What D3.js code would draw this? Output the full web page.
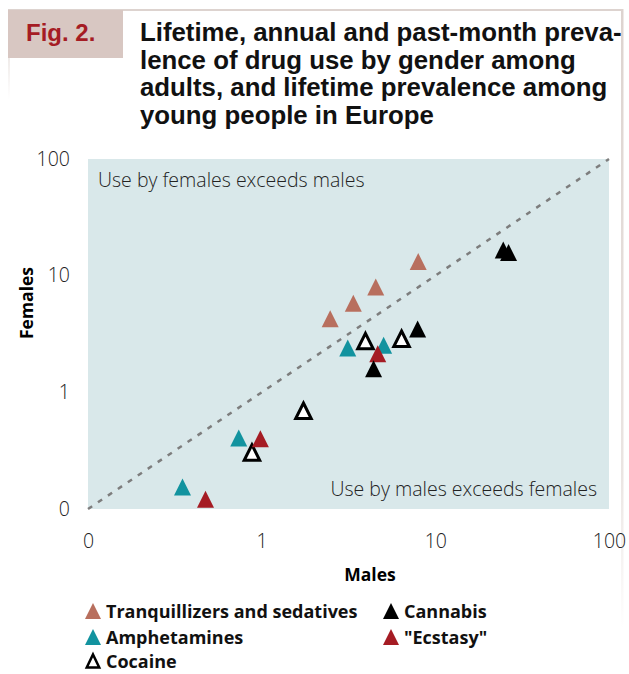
<!DOCTYPE html>
<html>
<head>
<meta charset="utf-8">
<script src="https://cdn.jsdelivr.net/npm/d3@7"></script>
<style>
  html, body { margin: 0; padding: 0; background: #fff; }
  svg { display: block; }
</style>
</head>
<body>
<div id="chart"></div>
<script>
// ---------------- data ----------------
const seriesNames = ["Tranquillizers and sedatives", "Amphetamines", "Cocaine", "Cannabis", "\"Ecstasy\""];
const seriesColors = ["#b86f5e", "#12939f", "#ffffff", "#000000", "#a51c24"];

const tranqMales   = [2.48, 3.37, 4.54, 7.97];
const tranqFemales = [4.28, 5.80, 8.0, 13.2];

const amphMales    = [0.35, 0.738, 3.13, 5.04];
const amphFemales  = [0.154, 0.406, 2.40, 2.53];

const ecstMales    = [0.475, 0.983, 4.66];
const ecstFemales  = [0.121, 0.400, 2.14];

const cannMales    = [24.6, 26.4, 7.91, 4.41];
const cannFemales  = [16.6, 15.8, 3.49, 1.59];

const cocMales     = [0.879, 1.74, 3.96, 6.39];
const cocFemales   = [0.305, 0.695, 2.75, 2.88];

const tickValues = [0.1, 1, 10, 100];
const tickLabels = ["0", "1", "10", "100"];

const titleLines = [
  "Lifetime, annual and past-month preva-",
  "lence of drug use by gender among",
  "adults, and lifetime prevalence among",
  "young people in Europe"
];
const figLabel = "Fig. 2.";
const xTitle = "Males";
const yTitle = "Females";
const noteTop = "Use by females exceeds males";
const noteBottom = "Use by males exceeds females";

// ---------------- layout ----------------
const W = 629, H = 674;
const plot = { left: 88, right: 609, top: 159, bottom: 509 };
const lightFont = "'Open Sans', 'DejaVu Sans', sans-serif";
const boldFont = "'Liberation Sans', Arial, sans-serif";

const svg = d3.select("#chart").append("svg")
  .attr("width", W).attr("height", H);

// frame
const defs = svg.append("defs");
const grad = defs.append("linearGradient").attr("id", "fade")
  .attr("x1", 0).attr("y1", 0).attr("x2", 0).attr("y2", 1);
grad.append("stop").attr("offset", "0%").attr("stop-color", "#ddd3cf").attr("stop-opacity", 1);
grad.append("stop").attr("offset", "75%").attr("stop-color", "#ddd3cf").attr("stop-opacity", 0.6);
grad.append("stop").attr("offset", "100%").attr("stop-color", "#ddd3cf").attr("stop-opacity", 0);
const gradL = defs.append("linearGradient").attr("id", "fadeL")
  .attr("x1", 0).attr("y1", 0).attr("x2", 0).attr("y2", 1);
gradL.append("stop").attr("offset", "0%").attr("stop-color", "#ddd3cf").attr("stop-opacity", 1);
gradL.append("stop").attr("offset", "100%").attr("stop-color", "#ddd3cf").attr("stop-opacity", 0);

svg.append("rect").attr("x", 8).attr("y", 9).attr("width", 615).attr("height", 2).attr("fill", "#ddd3cf");
svg.append("rect").attr("x", 621).attr("y", 9).attr("width", 2.5).attr("height", 620).attr("fill", "url(#fade)");
svg.append("rect").attr("x", 8).attr("y", 9).attr("width", 2).attr("height", 90).attr("fill", "url(#fadeL)");
svg.append("rect").attr("x", 8).attr("y", 10).attr("width", 115).attr("height", 48).attr("fill", "#d8c7c2");

svg.append("text").attr("x", 26).attr("y", 41)
  .attr("font-family", boldFont).attr("font-weight", "bold").attr("font-size", 24)
  .attr("fill", "#a51c24").text(figLabel);

const titleG = svg.append("g");
const tl = titleG.selectAll("text").data(titleLines).join("text")
  .attr("x", 140).attr("y", (d, i) => 41 + i * 27.5)
  .attr("font-family", boldFont).attr("font-weight", "bold").attr("font-size", 22)
  .attr("fill", "#111").text(d => d);
// fit the first line to its reference width
const w0 = tl.nodes()[0].getComputedTextLength();
const fs = 22 * 482 / w0;
tl.attr("font-size", fs);

// scales
const x = d3.scaleLog().domain([0.1, 100]).range([plot.left, plot.right]);
const y = d3.scaleLog().domain([0.1, 100]).range([plot.bottom, plot.top]);

// background panel
svg.append("rect").attr("x", plot.left).attr("y", plot.top)
  .attr("width", plot.right - plot.left).attr("height", plot.bottom - plot.top)
  .attr("fill", "#d9e8ea");

// diagonal
svg.append("line")
  .attr("x1", x(0.1)).attr("y1", y(0.1)).attr("x2", x(100)).attr("y2", y(100))
  .attr("stroke", "#7d7d7d").attr("stroke-width", 2.5).attr("stroke-dasharray", "5,7");

// notes
svg.append("text").attr("x", 98).attr("y", 187)
  .attr("font-family", lightFont).attr("font-weight", 300).attr("font-size", 19.5)
  .attr("fill", "#222").text(noteTop);
svg.append("text").attr("x", 597).attr("y", 496).attr("text-anchor", "end")
  .attr("font-family", lightFont).attr("font-weight", 300).attr("font-size", 19.5)
  .attr("fill", "#222").text(noteBottom);

// axes
const fmt = v => tickLabels[tickValues.indexOf(v)];
const xAxis = svg.append("g").attr("transform", `translate(0,${plot.bottom})`)
  .call(d3.axisBottom(x).tickValues(tickValues).tickFormat(fmt).tickSize(0).tickPadding(25));
const yAxis = svg.append("g").attr("transform", `translate(${plot.left},0)`)
  .call(d3.axisLeft(y).tickValues(tickValues).tickFormat(fmt).tickSize(0).tickPadding(18));
[xAxis, yAxis].forEach(a => {
  a.select(".domain").remove();
  a.selectAll("text").attr("font-family", lightFont).attr("font-weight", 300)
    .attr("font-size", 19.5).attr("fill", "#222");
});

svg.append("text").attr("x", 370).attr("y", 581).attr("text-anchor", "middle")
  .attr("font-family", lightFont).attr("font-weight", "bold").attr("font-size", 17.5)
  .attr("fill", "#000").text(xTitle);
svg.append("text").attr("transform", "translate(33,303) rotate(-90)").attr("text-anchor", "middle")
  .attr("font-family", lightFont).attr("font-weight", "bold").attr("font-size", 17.5)
  .attr("fill", "#000").text(yTitle);

// triangle path centered on bbox center
function tri(w, h) {
  return `M0,${-h / 2}L${w / 2},${h / 2}L${-w / 2},${h / 2}Z`;
}

function pts(ms, fs) { return ms.map((m, i) => ({ m: m, f: fs[i] })); }

const layers = [
  { data: pts(tranqMales, tranqFemales), color: seriesColors[0], open: false },
  { data: pts(amphMales, amphFemales), color: seriesColors[1], open: false },
  { data: pts(cocMales, cocFemales), color: seriesColors[2], open: true },
  { data: pts(ecstMales, ecstFemales), color: seriesColors[4], open: false },
  { data: pts(cannMales, cannFemales), color: seriesColors[3], open: false }
];

layers.forEach(L => {
  svg.append("g").selectAll("path").data(L.data).join("path")
    .attr("transform", d => `translate(${x(d.m)},${y(d.f)})`)
    .attr("d", L.open ? tri(15.5, 15.5) : tri(17, 17))
    .attr("fill", L.color)
    .attr("stroke", L.open ? "#000" : "none")
    .attr("stroke-width", L.open ? 3 : 0)
    .attr("stroke-linejoin", "miter");
});

// legend
const legendItems = [
  { name: seriesNames[0], color: seriesColors[0], open: false, x: 93, y: 611 },
  { name: seriesNames[1], color: seriesColors[1], open: false, x: 93, y: 637 },
  { name: seriesNames[2], color: seriesColors[2], open: true, x: 93, y: 661 },
  { name: seriesNames[3], color: seriesColors[3], open: false, x: 391, y: 611 },
  { name: seriesNames[4], color: seriesColors[4], open: false, x: 391, y: 637 }
];
const lg = svg.append("g").selectAll("g").data(legendItems).join("g")
  .attr("transform", d => `translate(${d.x},${d.y})`);
lg.append("path")
  .attr("d", d => d.open ? tri(12.5, 13) : tri(16, 16))
  .attr("fill", d => d.color)
  .attr("stroke", d => d.open ? "#000" : "none")
  .attr("stroke-width", d => d.open ? 2.5 : 0);
lg.append("text").attr("x", 13).attr("y", 7)
  .attr("font-family", lightFont).attr("font-weight", "bold").attr("font-size", 18)
  .attr("fill", "#111").text(d => d.name);
</script>
</body>
</html>
